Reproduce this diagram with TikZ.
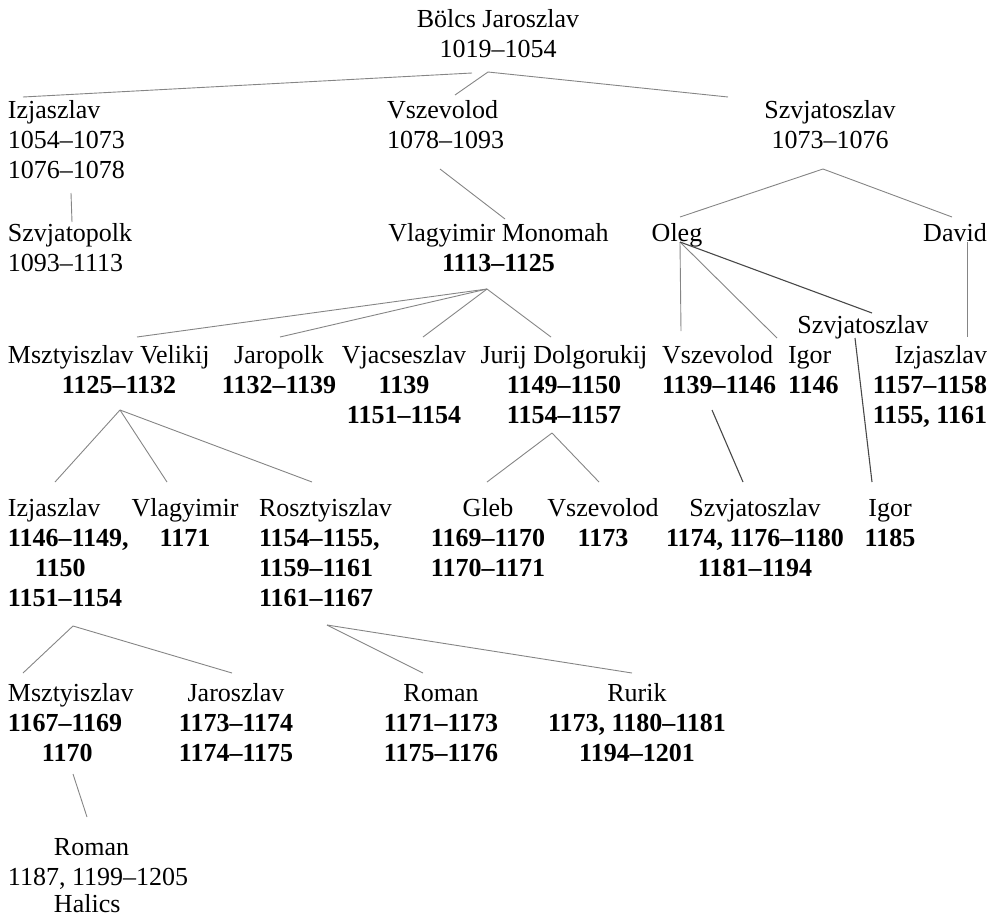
\documentclass[tikz,border=0pt]{standalone}
\usepackage{fontspec}
\setmainfont{Liberation Serif}
\newcommand\rowsof[2]{\begin{tabular}[t]{@{}#1@{}}#2\end{tabular}}
\definecolor{linkgray}{HTML}{858585}
\definecolor{linkdark}{HTML}{484848}
\begin{document}
\begin{tikzpicture}[x=1pt,y=-1pt,
  person/.style={inner sep=0pt, outer sep=0pt, font=\fontsize{26}{30}\selectfont},
  pl/.style={person, anchor=base west},
  pc/.style={person, anchor=base},
  pr/.style={person, anchor=base east},
  link/.style={draw=linkgray, line width=0.9pt},
  strong/.style={draw=linkdark, line width=1.1pt}]
\useasboundingbox (0,0) rectangle (997,919);

% persons
\node[pc] (bolcs) at (498,27) {\rowsof{c}{Bölcs Jaroszlav\\1019–1054}};
\node[pl] (izj1) at (8,118) {\rowsof{l}{Izjaszlav\\1054–1073\\1076–1078}};
\node[pl] (vsz1) at (387,118) {\rowsof{l}{Vszevolod\\1078–1093}};
\node[pc] (szv1) at (830,118) {\rowsof{c}{Szvjatoszlav\\1073–1076}};
\node[pl] (szvpolk) at (8,241.5) {\rowsof{l}{Szvjatopolk\\1093–1113}};
\node[pc] (monomah) at (498.5,241.5) {\rowsof{c}{Vlagyimir Monomah\\\textbf{1113–1125}}};
\node[pc] (oleg) at (677,241.5) {Oleg};
\node[pc] (david) at (955,241.5) {David};
\node[pc] (szv2) at (863,333.5) {Szvjatoszlav};
\node[pl] (mstislav) at (8,363.5) {\rowsof{l}{Msztyiszlav Velikij\\\hspace*{54pt}\textbf{1125–1132}}};
\node[pc] (jaropolk) at (279,363.5) {\rowsof{c}{Jaropolk\\\textbf{1132–1139}}};
\node[pc] (vjacs) at (404,363.5) {\rowsof{c}{Vjacseszlav\\\textbf{1139}\\\textbf{1151–1154}}};
\node[pc] (jurij) at (564,363.5) {\rowsof{c}{Jurij Dolgorukij\\\textbf{1149–1150}\\\textbf{1154–1157}}};
\node[pl] (vsz2) at (662,363.5) {\rowsof{l}{Vszevolod\\\textbf{1139–1146}}};
\node[pl] (igor1) at (788,363.5) {\rowsof{l}{Igor\\\textbf{1146}}};
\node[pr] (izj2) at (987,363.5) {\rowsof{r}{Izjaszlav\\\textbf{1157–1158}\\\textbf{1155, 1161}}};
\node[pl] (izj3) at (8,516.5) {\rowsof{l}{Izjaszlav\\\textbf{1146–1149,}\\\hspace*{27pt}\textbf{1150}\\\textbf{1151–1154}}};
\node[pc] (vlagy) at (185,516.5) {\rowsof{c}{Vlagyimir\\\textbf{1171}}};
\node[pl] (roszt) at (259,516.5) {\rowsof{l}{Rosztyiszlav\\\textbf{1154–1155,}\\\textbf{1159–1161}\\\textbf{1161–1167}}};
\node[pc] (gleb) at (488,516.5) {\rowsof{c}{Gleb\\\textbf{1169–1170}\\\textbf{1170–1171}}};
\node[pc] (vsz3) at (603,516.5) {\rowsof{c}{Vszevolod\\\textbf{1173}}};
\node[pc] (szv3) at (755,516.5) {\rowsof{c}{Szvjatoszlav\\\textbf{1174, 1176–1180}\\\textbf{1181–1194}}};
\node[pc] (igor2) at (890,516.5) {\rowsof{c}{Igor\\\textbf{1185}}};
\node[pl] (mstislav2) at (8,701.5) {\rowsof{l}{Msztyiszlav\\\textbf{1167–1169}\\\hspace*{34pt}\textbf{1170}}};
\node[pc] (jaroszlav) at (236,701.5) {\rowsof{c}{Jaroszlav\\\textbf{1173–1174}\\\textbf{1174–1175}}};
\node[pc] (roman) at (441,701.5) {\rowsof{c}{Roman\\\textbf{1171–1173}\\\textbf{1175–1176}}};
\node[pc] (rurik) at (637,701.5) {\rowsof{c}{Rurik\\\textbf{1173, 1180–1181}\\\textbf{1194–1201}}};
\node[pl] (romanH) at (8,855.5) {\rowsof{l}{\hspace*{46pt}Roman\\1187, 1199–1205\\[-3pt]\hspace*{46pt}Halics}};

% connector end points
\coordinate (bolcs-a) at (472,73);
\coordinate (bolcs-b) at (488,72);
\coordinate (izj1-t) at (23,97);
\coordinate (vsz1-t) at (455,95);
\coordinate (szv1-t) at (728,97);
\coordinate (izj1-b) at (71,193);
\coordinate (szvpolk-t) at (72,222);
\coordinate (vsz1-b) at (440,169);
\coordinate (monomah-t) at (505,219);
\coordinate (szv1-b) at (823,169);
\coordinate (oleg-t) at (680,217);
\coordinate (david-t) at (952,217);
\coordinate (oleg-b) at (680,242);
\coordinate (vsz2-t) at (681,331);
\coordinate (igor1-t) at (777,338);
\coordinate (szv2-t) at (872,313);
\coordinate (david-b) at (967,242);
\coordinate (izj2-t) at (967,337);
\coordinate (monomah-b) at (487,289);
\coordinate (mstislav-t) at (137,337);
\coordinate (jaropolk-t) at (280,337);
\coordinate (vjacs-t) at (423,337);
\coordinate (jurij-t) at (551,337);
\coordinate (mstislav-b) at (120,410);
\coordinate (izj3-t) at (55,482);
\coordinate (vlagy-t) at (167,482);
\coordinate (roszt-t) at (312,482);
\coordinate (jurij-b) at (552,433);
\coordinate (gleb-t) at (487,482);
\coordinate (vsz3-t) at (599,482);
\coordinate (vsz2-b) at (712,410);
\coordinate (szv3-t) at (743,482);
\coordinate (szv2-b) at (855,338);
\coordinate (igor2-t) at (872,482);
\coordinate (izj3-b) at (73,626);
\coordinate (mstislav2-t) at (23,673);
\coordinate (jaroszlav-t) at (232,673);
\coordinate (roszt-b) at (327,625);
\coordinate (roman-t) at (423,673);
\coordinate (rurik-t) at (632,673);
\coordinate (mstislav2-b) at (73,774);
\coordinate (romanH-t) at (87,817);

% connectors
\draw[link] (bolcs-a) -- (izj1-t);
\draw[link] (bolcs-b) -- (vsz1-t);
\draw[link] (bolcs-b) -- (szv1-t);
\draw[link] (izj1-b) -- (szvpolk-t);
\draw[link] (vsz1-b) -- (monomah-t);
\draw[link] (szv1-b) -- (oleg-t);
\draw[link] (szv1-b) -- (david-t);
\draw[link] (oleg-b) -- (vsz2-t);
\draw[link] (oleg-b) -- (igor1-t);
\draw[strong] (oleg-b) -- (szv2-t);
\draw[link] (david-b) -- (izj2-t);
\draw[link] (monomah-b) -- (mstislav-t);
\draw[link] (monomah-b) -- (jaropolk-t);
\draw[link] (monomah-b) -- (vjacs-t);
\draw[link] (monomah-b) -- (jurij-t);
\draw[link] (mstislav-b) -- (izj3-t);
\draw[link] (mstislav-b) -- (vlagy-t);
\draw[link] (mstislav-b) -- (roszt-t);
\draw[link] (jurij-b) -- (gleb-t);
\draw[link] (jurij-b) -- (vsz3-t);
\draw[strong] (vsz2-b) -- (szv3-t);
\draw[strong] (szv2-b) -- (igor2-t);
\draw[link] (izj3-b) -- (mstislav2-t);
\draw[link] (izj3-b) -- (jaroszlav-t);
\draw[link] (roszt-b) -- (roman-t);
\draw[link] (roszt-b) -- (rurik-t);
\draw[link] (mstislav2-b) -- (romanH-t);
\end{tikzpicture}
\end{document}
